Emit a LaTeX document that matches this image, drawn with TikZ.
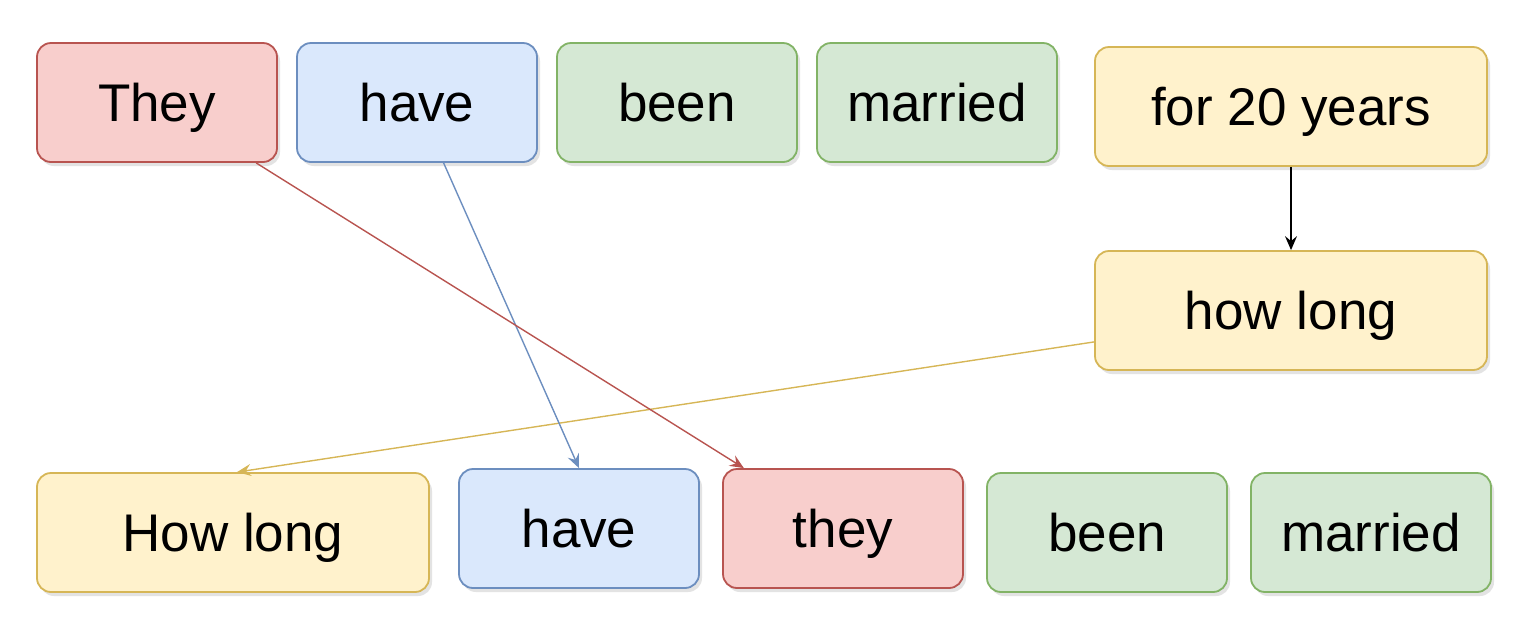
\documentclass[tikz,border=0pt]{standalone}
\usepackage{fontspec}
\setmainfont{Liberation Sans}
\usetikzlibrary{arrows.meta, calc, positioning, shadows}
\definecolor{redfill}{HTML}{F8CECC}
\definecolor{redline}{HTML}{B85450}
\definecolor{bluefill}{HTML}{DAE8FC}
\definecolor{blueline}{HTML}{6C8EBF}
\definecolor{greenfill}{HTML}{D5E8D4}
\definecolor{greenline}{HTML}{82B366}
\definecolor{yellowfill}{HTML}{FFF2CC}
\definecolor{yellowline}{HTML}{D6B656}

\begin{document}
\begin{tikzpicture}[
  x=0.5pt, y=-0.5pt,
  wbox/.style    = {rounded corners=7pt, line width=0.9pt, minimum width=120pt, minimum height=59.5pt, inner sep=0pt, text height=24pt, text depth=5pt, align=center, font=\fontsize{26.5}{30}\selectfont, drop shadow={shadow xshift=1.5pt, shadow yshift=-2pt, opacity=0.18, fill=black!60}},
  redbox/.style    = {wbox, draw=redline, fill=redfill},
  bluebox/.style   = {wbox, draw=blueline, fill=bluefill},
  greenbox/.style  = {wbox, draw=greenline, fill=greenfill},
  yellowbox/.style = {wbox, draw=yellowline, fill=yellowfill, minimum width=196pt},
  arr/.style     = {-{Stealth[length=7pt,width=6pt,inset=2.5pt]}, line width=0.7pt},
]
\useasboundingbox (0,0) rectangle (1524,634);
%%--- Statement (top row) ---
\node[redbox]    (they1)    at (157,  102.5) {They};
\node[bluebox]   (have1)    at (417,  102.5) {have};
\node[greenbox]  (been1)    at (677,  102.5) {been};
\node[greenbox]  (married1) at (937,  102.5) {married};
\node[yellowbox] (years)    at (1291, 106.5) {for 20 years};
\node[yellowbox] (howlong)  at (1291, 310.5) {how long};
%%--- Question (bottom row) ---
\node[yellowbox] (howlong2) at (233,  532.5) {How long};
\node[bluebox]   (have2)    at (579,  528.5) {have};
\node[redbox]    (they2)    at (843,  528.5) {they};
\node[greenbox]  (been2)    at (1107, 532.5) {been};
\node[greenbox]  (married2) at (1371, 532.5) {married};
%%--- Arrows ---
\draw[arr, color=yellowline] ($(howlong.north west)!0.76!(howlong.south west)$) -- ([xshift=2pt]howlong2.north);
\draw[arr, color=blueline] ($(have1.south west)!0.61!(have1.south east)$) -- (have2.north);
\draw[arr, color=redline] ($(they1.south west)!0.91!(they1.south east)$) -- ($(they2.north west)!0.09!(they2.north east)$);
\draw[arr, color=black] (years) -- (howlong);
\end{tikzpicture}
\end{document}
